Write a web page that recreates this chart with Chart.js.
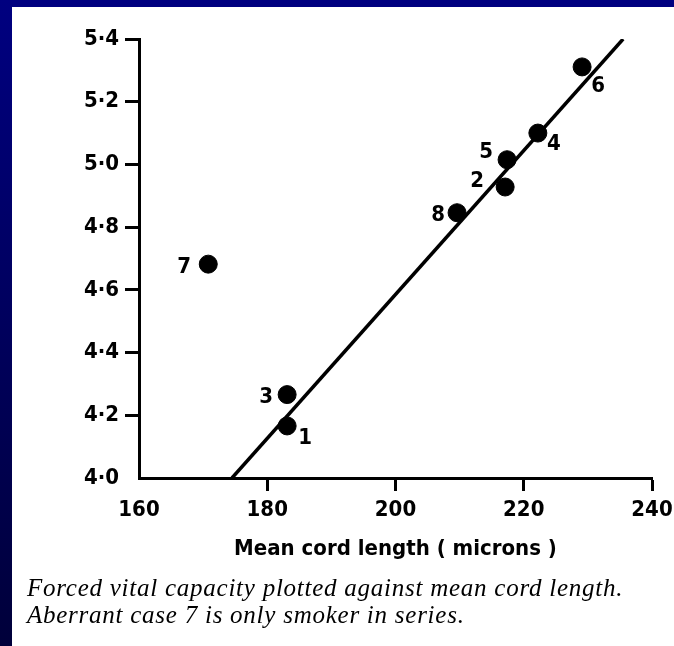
<!DOCTYPE html>
<html><head><meta charset="utf-8">
<script src="https://cdn.jsdelivr.net/npm/chart.js@4.4.1/dist/chart.umd.min.js"></script>
<style>
html,body{margin:0;padding:0;width:674px;height:646px;overflow:hidden;background:linear-gradient(#000080,#00003a);}
#panel{position:absolute;left:12px;top:7px;right:0;bottom:0;background:#fff;}
#c{position:absolute;left:0;top:0;}
#cap{position:absolute;left:27px;top:574px;font:italic 25px "Liberation Serif",serif;letter-spacing:0.75px;line-height:27px;color:#000;white-space:nowrap;}
</style></head><body>
<div id="panel"></div>
<canvas id="c" width="674" height="646"></canvas>
<div id="cap">Forced vital capacity plotted against mean cord length.<br>Aberrant case 7 is only smoker in series.</div>
<script>
const caseLabels = ['1','2','3','4','5','6','7','8'];
const cordLength = [183.1, 217.1, 183.1, 222.2, 217.4, 229.1, 170.8, 209.6];
const vitalCapacity = [4.166, 4.928, 4.266, 5.10, 5.015, 5.311, 4.682, 4.846];
const fitX = [174.5, 235.5];
const fitY = [4.0, 5.4];
const xTicks = [160, 180, 200, 220, 240];
const yTicks = [4.0, 4.2, 4.4, 4.6, 4.8, 5.0, 5.2, 5.4];
const xTitle = 'Mean cord length ( microns )';

const FONT = '"DejaVu Sans Condensed", "DejaVu Sans", sans-serif';

const labelPlugin = {
  id: 'caseLabels',
  afterDatasetsDraw(chart) {
    const place = {'1':[18,12],'2':[-28,-6],'3':[-21,3],'4':[16,11],'5':[-21,-7],'6':[16,19],'7':[-24,3],'8':[-19,3]};
    const meta = chart.getDatasetMeta(0);
    const ctx = chart.ctx;
    ctx.save();
    ctx.font = 'bold 22px ' + FONT;
    ctx.fillStyle = '#000';
    ctx.textAlign = 'center';
    ctx.textBaseline = 'middle';
    meta.data.forEach((el, i) => {
      const o = place[caseLabels[i]] || [14, 0];
      ctx.fillText(caseLabels[i], el.x + o[0], el.y + o[1]);
    });
    ctx.restore();
  }
};

const hideFirst = c => c.index === 0 ? 'rgba(0,0,0,0)' : '#000';

new Chart(document.getElementById('c'), {
  type: 'scatter',
  data: {
    datasets: [
      {
        data: cordLength.map((x, i) => ({x, y: vitalCapacity[i]})),
        backgroundColor: '#000', borderColor: '#000',
        pointRadius: 9, pointHoverRadius: 9, order: 0
      },
      {
        type: 'line',
        data: fitX.map((x, i) => ({x, y: fitY[i]})),
        borderColor: '#000', borderWidth: 3.5, pointRadius: 0, fill: false, order: 1
      }
    ]
  },
  options: {
    responsive: false,
    animation: false,
    devicePixelRatio: 1,
    layout: {padding: {left: 0, right: 22, top: 39, bottom: 84}},
    plugins: {legend: {display: false}, tooltip: {enabled: false}},
    scales: {
      x: {
        type: 'linear', min: 160, max: 240,
        afterBuildTicks: s => { s.ticks = xTicks.map(v => ({value: v})); },
        afterFit: s => { s.height = 84; s.paddingLeft = 0; s.paddingRight = 0; },
        border: {display: true, color: '#000', width: 3},
        grid: {drawOnChartArea: false, drawTicks: true, tickLength: 13, tickWidth: 3, tickColor: hideFirst},
        ticks: {color: '#000', padding: 6, font: {family: FONT, size: 22, weight: 'bold'}, maxRotation: 0},
        title: {display: true, text: xTitle, color: '#000', padding: {top: 0, bottom: 0}, font: {family: FONT, size: 22, weight: 'bold'}}
      },
      y: {
        type: 'linear', min: 4.0, max: 5.4,
        afterBuildTicks: s => { s.ticks = yTicks.map(v => ({value: v})); },
        afterFit: s => { s.width = 139; s.paddingTop = 0; s.paddingBottom = 0; },
        border: {display: true, color: '#000', width: 3},
        grid: {drawOnChartArea: false, drawTicks: true, tickLength: 14, tickWidth: 3, tickColor: hideFirst},
        ticks: {color: '#000', padding: 6, font: {family: FONT, size: 22, weight: 'bold'},
          callback: v => Number(v).toFixed(1).replace('.', '·')}
      }
    }
  },
  plugins: [labelPlugin]
});
</script>
</body></html>
